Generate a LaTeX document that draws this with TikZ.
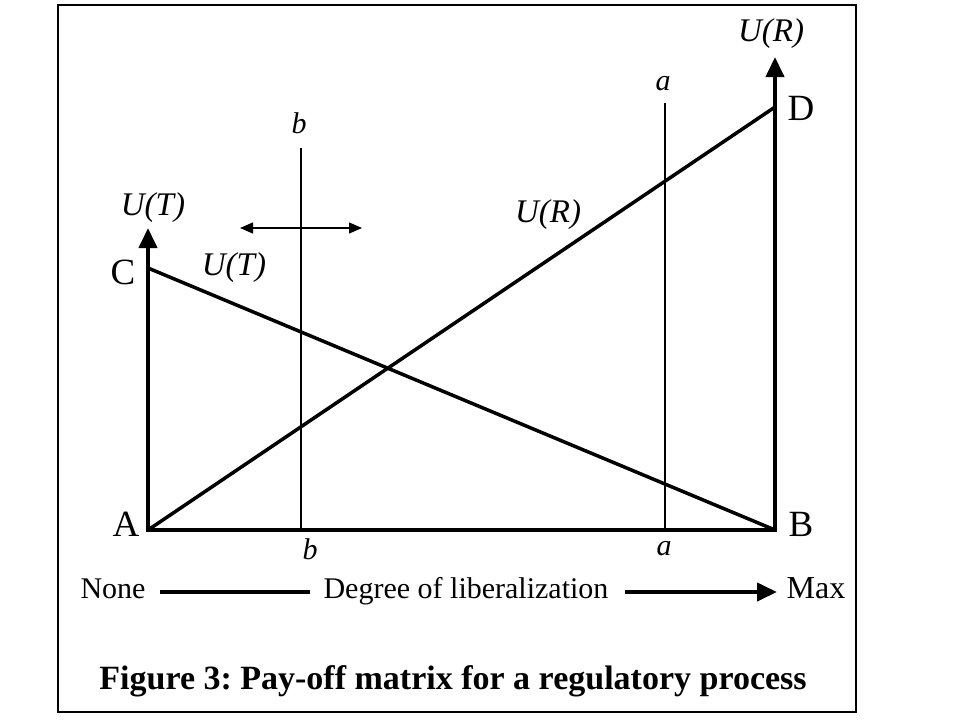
\documentclass[tikz,border=0pt]{standalone}
\usepackage{fontspec}
\setmainfont{Liberation Serif}
\usetikzlibrary{arrows.meta, positioning}
\frenchspacing

\begin{document}
\begin{tikzpicture}[
        x=1pt, y=-1pt,
        every node/.style={inner sep=0pt, font=\fontsize{30}{36}\selectfont},
        axis/.style={line width=4pt},
        axisarrow/.style={line width=4pt, -{Triangle[length=20pt, width=18pt]}},
        payoff/.style={line width=3.5pt},
        marker/.style={line width=1.1pt},
        shiftarrow/.style={line width=1.1pt, {Triangle[length=13pt, width=11pt]}-{Triangle[length=13pt, width=11pt]}},
        corner/.style={anchor=base, font=\fontsize{37}{44}\selectfont},
        lbl/.style={font=\fontsize{33}{40}\selectfont\itshape},
        small/.style={font=\fontsize{30}{34}\selectfont\itshape}
      ]
        \useasboundingbox (0,0) rectangle (960,720);
        \draw[line width=1.2pt] (58,5) rectangle (856,712);

        % Corner points
        \coordinate (A) at (148,530);
        \coordinate (B) at (775,530);
        \coordinate (C) at (148,268);
        \coordinate (D) at (775,107);
        \coordinate (ttop) at (148,228);
        \coordinate (rtop) at (775,57);

        % Axes
        \draw[axisarrow] ([yshift=-2pt]A) -- (ttop);
        \draw[axisarrow] ([yshift=-2pt]B) -- (rtop);
        \draw[axis, line cap=rect] (A) -- (B);

        % Pay-off lines
        \draw[payoff] (A) -- (D);
        \draw[payoff] (C) -- (B);

        % Markers a and b
        \coordinate (btop) at (301,148);
        \coordinate (bbot) at (301,530);
        \coordinate (atop) at (665,103);
        \coordinate (abot) at (665,530);
        \draw[marker] (btop) -- (bbot);
        \draw[marker] (atop) -- (abot);
        \coordinate (sl) at (240,228);
        \coordinate (sr) at (362,228);
        \draw[shiftarrow] (sl) -- (sr);

        % Labels
        \node[corner] (lA) at (126,536) {A};
        \node[corner] (lB) at (801,536) {B};
        \node[corner] (lC) at (123,284) {C};
        \node[corner] (lD) at (801,120) {D};
        \node[lbl] (ut_axis) at (153,208) {U(T)};
        \node[lbl] (ut_line) at (234,268) {U(T)};
        \node[lbl] (ur_line) at (548,215) {U(R)};
        \node[lbl] (ur_axis) at (771,34) {U(R)};
        \node[small] (b_top) at (299,123) {b};
        \node[small] (a_top) at (663,84) {a};
        \node[small] (b_bot) at (310,549) {b};
        \node[small] (a_bot) at (664,549) {a};

        % Degree of liberalization
        \node[anchor=base] (none) at (113,598) {None};
        \node[anchor=base] (degree) at (466,598) {Degree of liberalization};
        \node[anchor=base, font=\fontsize{32}{38}\selectfont] (max) at (816,598) {Max};
        \coordinate (n1) at (160,592);
        \coordinate (n2) at (310,592);
        \coordinate (m1) at (625,592);
        \coordinate (m2) at (777,592);
        \draw[axis] (n1) -- (n2);
        \draw[axisarrow] (m1) -- (m2);

        % Caption
        \node[font=\fontsize{34}{40}\selectfont\bfseries] (caption) at (453,681) {Figure 3: Pay-off matrix for a regulatory process};
      \end{tikzpicture}
\end{document}
